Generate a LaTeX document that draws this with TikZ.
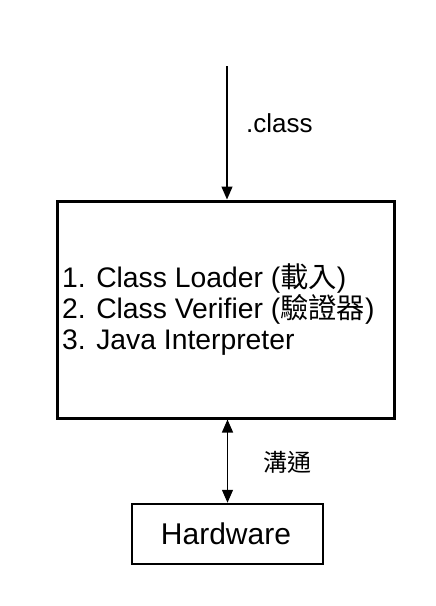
\documentclass[tikz,border=0pt]{standalone}
\usepackage{fontspec}
\setmainfont{Liberation Sans}
\newfontfamily\cjk{Noto Sans CJK TC}
\usetikzlibrary{arrows.meta}
\begin{document}
\begin{tikzpicture}[x=1pt,y=-1pt,
  box/.style={draw, line width=3pt, inner sep=0pt},
  hwbox/.style={draw, line width=2.5pt, inner sep=0pt},
  conn/.style={line width=1.3pt, -{Triangle[width=11pt,length=13pt]}},
  dconn/.style={line width=1.3pt, {Triangle[width=11pt,length=13pt]}-{Triangle[width=11pt,length=13pt]}},
  lbl/.style={inner sep=0pt, anchor=base west}]
\useasboundingbox[fill=white] (0,0) rectangle (436,606);
\node[box, minimum width=337pt, minimum height=217pt] (jvm) at (225.5,309.5) {};
\node[hwbox, minimum width=191pt, minimum height=60pt] (hw) at (227.5,534) {};
\node[inner sep=0pt] (hwt) at (226,534) {\fontsize{30}{36}\selectfont Hardware};
\node[lbl] (l1) at (62,287) {\fontsize{28.3}{32}\selectfont 1. Class Loader ({\cjk 載入})};
\node[lbl] (l2) at (62,318) {\fontsize{28.3}{32}\selectfont 2. Class Verifier ({\cjk 驗證器})};
\node[lbl] (l3) at (62,349) {\fontsize{28.3}{32}\selectfont 3. Java Interpreter};
\coordinate (src) at (227,66);
\draw[conn] (src) -- (src |- jvm.north);
\node[lbl] (cls) at (246,132) {\fontsize{26}{30}\selectfont .class};
\draw[dconn] (hw.north) -- (hw.north |- jvm.south);
\node[lbl] (comm) at (263,471) {\fontsize{24}{28}\selectfont\cjk 溝通};
\end{tikzpicture}
\end{document}
